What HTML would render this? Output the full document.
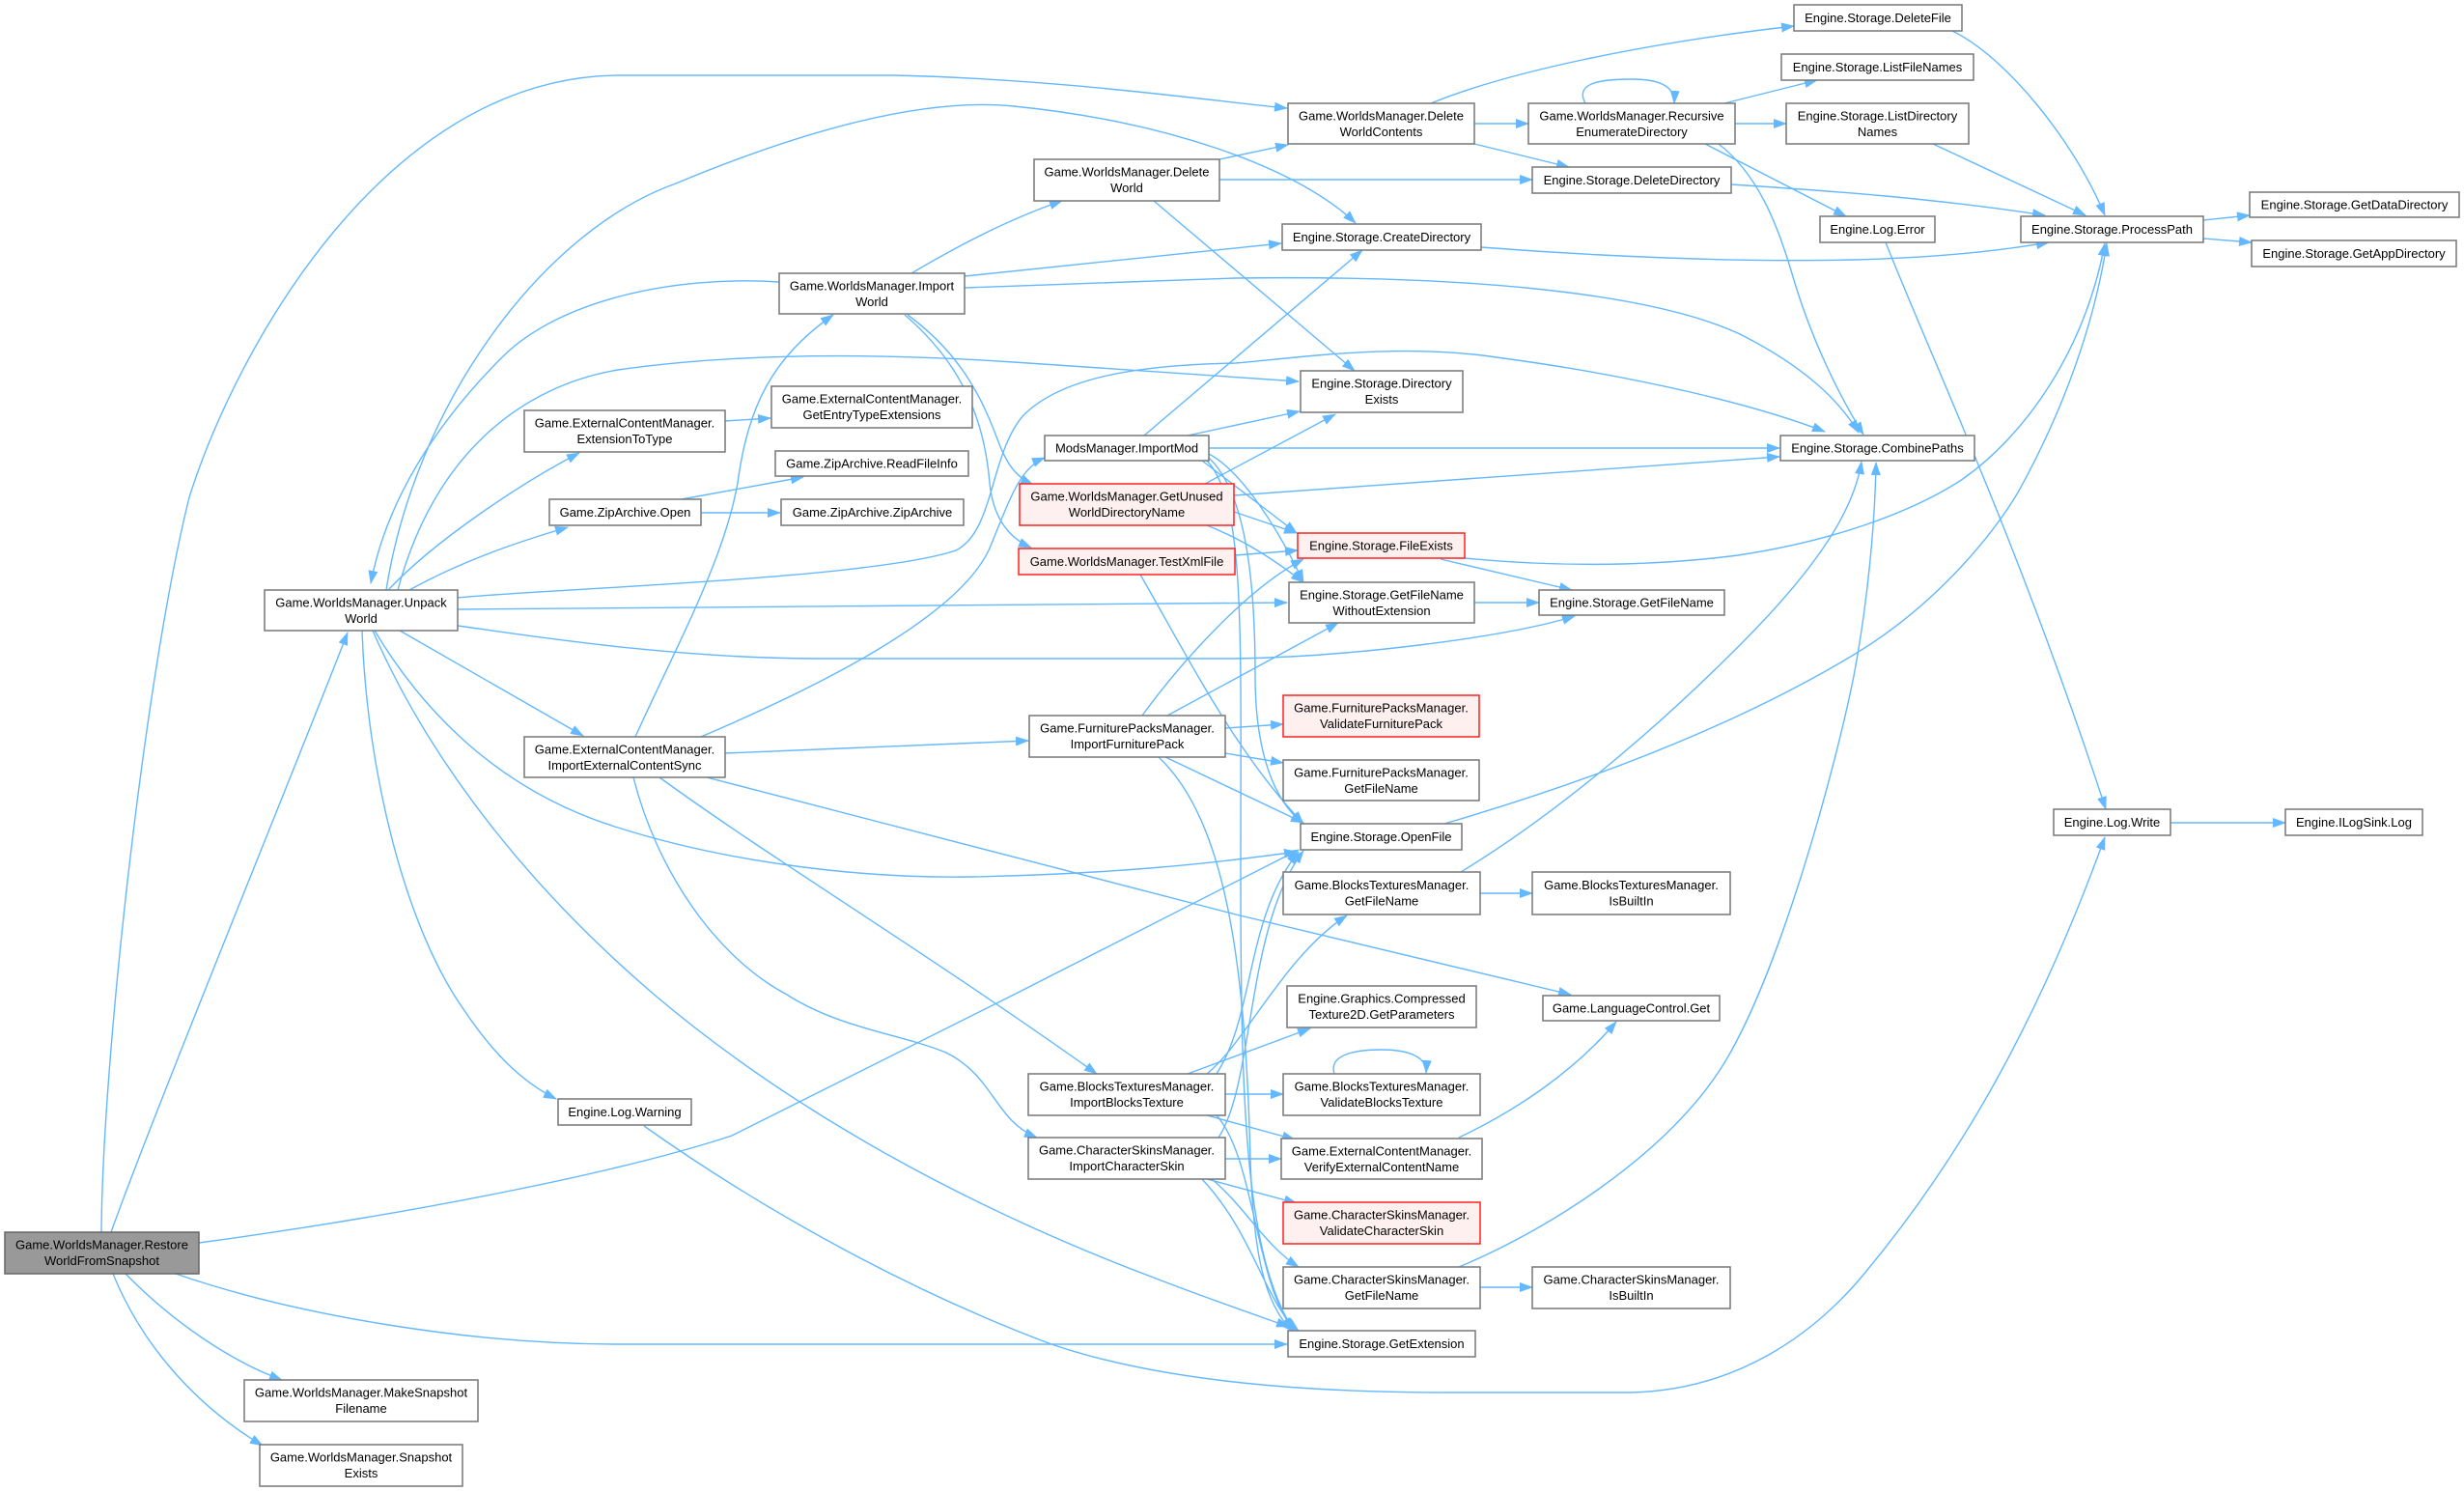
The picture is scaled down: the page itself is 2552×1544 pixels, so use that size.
<!DOCTYPE html>
<html>
<head>
<meta charset="utf-8">
<style>
html,body{margin:0;padding:0;background:#fff;}
svg{display:block;}
.e{fill:none;stroke:#63b8ff;stroke-width:1.4;marker-end:url(#ah);}
.el{fill:none;stroke:#63b8ff;stroke-width:1.4;}
.n{fill:#fff;stroke:#777;stroke-width:1.5;}
.r{fill:#fff0f0;stroke:#ff2020;stroke-width:1.5;}
.g{fill:#999;stroke:#666;stroke-width:1.5;}
text{font-family:"Liberation Sans",Arial,sans-serif;font-size:13px;fill:#000;text-anchor:middle;}
</style>
</head>
<body>
<svg width="2552" height="1544" viewBox="0 0 2552 1544" xmlns="http://www.w3.org/2000/svg">
<defs>
<marker id="ah" viewBox="0 0 14 10" markerWidth="14" markerHeight="10" refX="13" refY="5" orient="auto" markerUnits="userSpaceOnUse">
<path d="M0,0 L14,5 L0,10 z" fill="#63b8ff"/>
</marker>
</defs>
<rect width="2552" height="1544" fill="#fff"/>

<!-- edges from Restore -->
<path class="e" d="M105,1276 C106,1100 150,700 196,515 C245,360 400,80 640,78 L926,78 C1100,82 1250,104 1333,112"/>
<path class="e" d="M115,1276 C160,1150 320,760 360,655"/>
<path class="e" d="M206,1287 C420,1258 640,1215 758,1176 L1052,1029 L1345,880"/>
<path class="e" d="M182,1319 C300,1360 480,1392 640,1392 L1333,1392"/>
<path class="e" d="M130,1319 C180,1370 240,1410 292,1429"/>
<path class="e" d="M117,1319 C150,1400 210,1460 272,1497"/>

<!-- UnpackWorld -->
<path class="e" d="M400,611 C430,420 560,240 700,190 C820,140 950,100 1050,110 C1200,125 1340,170 1404,231"/>
<path class="e" d="M807,292 C700,285 580,310 520,370 C450,440 400,520 384,604"/>
<path class="e" d="M412,611 C450,470 540,400 640,383 C760,366 900,365 1050,375 C1200,385 1300,392 1345,395"/>
<path class="e" d="M474,619 C560,610 900,600 990,570 C1030,550 1025,470 1060,430 C1100,390 1180,378 1280,376 C1350,370 1450,355 1550,370 C1700,390 1820,420 1890,447"/>
<path class="e" d="M474,631 L1333,624"/>
<path class="e" d="M474,648 C560,660 700,682 850,682 L1280,682 C1400,680 1560,660 1631,638"/>
<path class="e" d="M414,653 L604,762"/>
<path class="e" d="M388,653 C440,740 520,820 640,857 C760,895 900,910 1007,908 C1150,905 1250,895 1343,882"/>
<path class="e" d="M386,653 C450,800 560,930 680,1032 C820,1150 1000,1250 1200,1325 C1260,1348 1310,1365 1335,1374"/>
<path class="e" d="M375,653 C380,800 420,960 480,1045 C510,1090 540,1120 576,1138"/>
<path class="e" d="M424,611 C480,580 540,560 588,546"/>
<path class="e" d="M402,611 C450,560 540,500 600,469"/>

<!-- Log.Warning -> Log.Write -->
<path class="e" d="M667,1166 C800,1260 950,1340 1089,1392 C1200,1430 1350,1442 1500,1442 L1688,1442 C1800,1440 1880,1380 1930,1320 C2030,1200 2110,1060 2180,867"/>

<!-- ExtensionToType / ZipArchive -->
<path class="e" d="M751,436 L798,433"/>
<path class="e" d="M706,517 L832,494"/>
<path class="e" d="M726,531 L808,531"/>

<!-- ImportExternalContentSync -->
<path class="e" d="M658,763 C700,670 750,580 764,500 C775,420 800,370 863,326"/>
<path class="e" d="M726,763 C850,710 990,640 1024,570 C1045,520 1055,485 1082,474"/>
<path class="e" d="M751,780 L1065,767"/>
<path class="e" d="M656,805 C680,900 740,990 815,1030 C870,1065 930,1070 980,1090 C1030,1115 1030,1160 1074,1178"/>
<path class="e" d="M683,805 C800,890 950,980 1136,1112"/>
<path class="e" d="M732,805 L1280,947 L1627,1030"/>

<!-- ImportWorld -->
<path class="e" d="M944,283 C1000,250 1050,225 1100,208"/>
<path class="e" d="M999,286 L1327,252"/>
<path class="e" d="M999,298 L1280,288 C1500,285 1700,300 1800,345 C1870,380 1905,415 1925,448"/>
<path class="e" d="M940,326 C1000,370 1020,420 1035,460 C1045,485 1055,495 1070,502"/>
<path class="e" d="M937,326 C1000,380 1020,440 1025,500 C1028,530 1040,555 1068,567"/>

<!-- DeleteWorld -->
<path class="e" d="M1263,165 L1334,150"/>
<path class="e" d="M1263,186 L1587,186"/>
<path class="e" d="M1195,208 L1403,384"/>

<!-- DeleteWorldContents -->
<path class="e" d="M1482,107 C1560,75 1700,45 1858,27"/>
<path class="e" d="M1527,128 L1583,128"/>
<path class="e" d="M1527,149 L1625,173"/>

<!-- RecursiveEnumerateDirectory -->
<path class="e" d="M1642,107 C1630,85 1660,82 1690,82 C1720,82 1735,90 1734,107"/>
<path class="e" d="M1786,107 L1882,83"/>
<path class="e" d="M1797,128 L1850,128"/>
<path class="e" d="M1766,149 L1912,224"/>
<path class="e" d="M1780,149 C1820,180 1840,230 1855,280 C1875,350 1905,410 1930,450"/>

<!-- to ProcessPath -->
<path class="e" d="M1793,191 C1900,198 2000,205 2118,223"/>
<path class="e" d="M1534,256 C1650,265 1800,272 1920,269 C2000,267 2070,260 2122,251"/>
<path class="e" d="M2022,32 C2080,60 2150,150 2180,223"/>
<path class="e" d="M2002,149 L2160,223"/>
<path class="e" d="M1517,578 C1600,586 1700,588 1800,575 C1900,560 1980,530 2030,498 C2100,450 2160,360 2180,252"/>
<path class="e" d="M1496,853 C1650,808 1800,750 1920,678 C2000,630 2060,560 2090,510 C2140,420 2170,330 2182,252"/>
<path class="e" d="M2282,228 L2330,223"/>
<path class="e" d="M2282,247 L2332,251"/>

<!-- Log -->
<path class="e" d="M1953,251 C2000,370 2090,560 2181,838"/>
<path class="e" d="M2248,852 L2367,852"/>

<!-- Storage misc -->
<path class="e" d="M1527,624 L1594,624"/>
<path class="e" d="M1492,579 L1628,611"/>
<path class="e" d="M1533,925 L1587,925"/>
<path class="e" d="M1533,1333 L1587,1333"/>
<path class="e" d="M1513,903 C1600,850 1700,770 1800,670 C1880,590 1920,530 1928,478"/>
<path class="e" d="M1511,1312 C1600,1275 1720,1200 1780,1110 C1840,1020 1900,800 1920,700 C1935,620 1942,540 1943,479"/>
<path class="e" d="M1511,1178 C1570,1150 1630,1110 1674,1058"/>
<path class="e" d="M1382,1112 C1375,1090 1410,1087 1431,1087 C1460,1087 1478,1095 1477,1111"/>

<!-- ModsManager.ImportMod -->
<path class="e" d="M1185,451 L1411,259"/>
<path class="e" d="M1230,451 L1346,426"/>
<path class="e" d="M1252,464 L1843,464"/>
<path class="e" d="M1245,477 L1343,552"/>
<path class="e" d="M1252,470 C1290,490 1330,560 1350,603"/>
<path class="e" d="M1252,474 C1290,510 1300,600 1300,700 C1300,780 1320,830 1350,853"/>
<path class="e" d="M1250,477 C1290,520 1285,650 1285,900 C1285,1150 1290,1300 1340,1378"/>

<!-- GetUnused / TestXml -->
<path class="e" d="M1248,501 L1383,429"/>
<path class="e" d="M1278,513 L1843,473"/>
<path class="e" d="M1278,530 L1343,552"/>
<path class="e" d="M1250,544 C1290,560 1320,580 1350,603"/>
<path class="e" d="M1279,575 L1344,570"/>
<path class="e" d="M1181,595 C1230,680 1280,780 1350,853"/>

<!-- ImportFurniturePack -->
<path class="e" d="M1183,741 C1220,690 1290,610 1350,579"/>
<path class="e" d="M1209,741 L1386,645"/>
<path class="e" d="M1269,754 L1329,750"/>
<path class="e" d="M1269,780 L1329,790"/>
<path class="e" d="M1207,784 L1350,852"/>
<path class="e" d="M1200,784 C1270,850 1290,1000 1295,1200 C1298,1300 1310,1350 1338,1378"/>

<!-- ImportBlocksTexture -->
<path class="e" d="M1230,1112 L1357,1065"/>
<path class="e" d="M1250,1112 C1290,1080 1330,990 1395,948"/>
<path class="e" d="M1260,1112 C1300,1050 1290,950 1345,882"/>
<path class="e" d="M1269,1133 L1329,1133"/>
<path class="e" d="M1250,1155 L1341,1180"/>
<path class="e" d="M1260,1155 C1300,1200 1300,1330 1340,1377"/>

<!-- ImportCharacterSkin -->
<path class="e" d="M1262,1178 C1300,1120 1290,960 1350,881"/>
<path class="e" d="M1269,1200 L1327,1200"/>
<path class="e" d="M1250,1221 L1343,1246"/>
<path class="e" d="M1255,1221 C1290,1250 1310,1290 1345,1312"/>
<path class="e" d="M1245,1221 C1300,1280 1310,1350 1345,1378"/>

<!-- NODES -->
<rect class="g" x="5" y="1276" width="201" height="43"/>
<text x="105.5" y="1293.5">Game.WorldsManager.Restore</text><text x="105.5" y="1310">WorldFromSnapshot</text>

<rect class="n" x="253" y="1429" width="242" height="43"/>
<text x="374" y="1446.5">Game.WorldsManager.MakeSnapshot</text><text x="374" y="1463">Filename</text>

<rect class="n" x="269" y="1496" width="210" height="43"/>
<text x="374" y="1513.5">Game.WorldsManager.Snapshot</text><text x="374" y="1530">Exists</text>

<rect class="n" x="274" y="611" width="200" height="42"/>
<text x="374" y="628.5">Game.WorldsManager.Unpack</text><text x="374" y="645">World</text>

<rect class="n" x="543" y="425" width="208" height="43"/>
<text x="647" y="442.5">Game.ExternalContentManager.</text><text x="647" y="459">ExtensionToType</text>

<rect class="n" x="569" y="517" width="157" height="27"/>
<text x="647.5" y="535">Game.ZipArchive.Open</text>

<rect class="n" x="543" y="763" width="208" height="42"/>
<text x="647" y="780.5">Game.ExternalContentManager.</text><text x="647" y="797">ImportExternalContentSync</text>

<rect class="n" x="578" y="1138" width="138" height="27"/>
<text x="647" y="1156">Engine.Log.Warning</text>

<rect class="n" x="807" y="283" width="192" height="42"/>
<text x="903" y="300.5">Game.WorldsManager.Import</text><text x="903" y="317">World</text>

<rect class="n" x="799" y="400" width="208" height="43"/>
<text x="903" y="417.5">Game.ExternalContentManager.</text><text x="903" y="434">GetEntryTypeExtensions</text>

<rect class="n" x="803" y="467" width="200" height="26"/>
<text x="903" y="484.5">Game.ZipArchive.ReadFileInfo</text>

<rect class="n" x="809" y="517" width="189" height="27"/>
<text x="903.5" y="535">Game.ZipArchive.ZipArchive</text>

<rect class="n" x="1071" y="165" width="192" height="43"/>
<text x="1167" y="182.5">Game.WorldsManager.Delete</text><text x="1167" y="199">World</text>

<rect class="n" x="1082" y="451" width="170" height="26"/>
<text x="1167" y="468.5">ModsManager.ImportMod</text>

<rect class="r" x="1056" y="501" width="222" height="43"/>
<text x="1167" y="518.5">Game.WorldsManager.GetUnused</text><text x="1167" y="535">WorldDirectoryName</text>

<rect class="r" x="1055" y="568" width="224" height="27"/>
<text x="1167" y="586">Game.WorldsManager.TestXmlFile</text>

<rect class="n" x="1066" y="741" width="203" height="43"/>
<text x="1167.5" y="758.5">Game.FurniturePacksManager.</text><text x="1167.5" y="775">ImportFurniturePack</text>

<rect class="n" x="1065" y="1112" width="204" height="43"/>
<text x="1167" y="1129.5">Game.BlocksTexturesManager.</text><text x="1167" y="1146">ImportBlocksTexture</text>

<rect class="n" x="1065" y="1178" width="204" height="43"/>
<text x="1167" y="1195.5">Game.CharacterSkinsManager.</text><text x="1167" y="1212">ImportCharacterSkin</text>

<rect class="n" x="1334" y="107" width="193" height="42"/>
<text x="1430.5" y="124.5">Game.WorldsManager.Delete</text><text x="1430.5" y="141">WorldContents</text>

<rect class="n" x="1328" y="232" width="206" height="27"/>
<text x="1431" y="250">Engine.Storage.CreateDirectory</text>

<rect class="n" x="1347" y="384" width="168" height="43"/>
<text x="1431" y="401.5">Engine.Storage.Directory</text><text x="1431" y="418">Exists</text>

<rect class="r" x="1344" y="552" width="173" height="26"/>
<text x="1430.5" y="569.5">Engine.Storage.FileExists</text>

<rect class="n" x="1335" y="603" width="192" height="42"/>
<text x="1431" y="620.5">Engine.Storage.GetFileName</text><text x="1431" y="637">WithoutExtension</text>

<rect class="r" x="1329" y="720" width="203" height="43"/>
<text x="1430.5" y="737.5">Game.FurniturePacksManager.</text><text x="1430.5" y="754">ValidateFurniturePack</text>

<rect class="n" x="1329" y="787" width="203" height="42"/>
<text x="1430.5" y="804.5">Game.FurniturePacksManager.</text><text x="1430.5" y="821">GetFileName</text>

<rect class="n" x="1347" y="853" width="167" height="27"/>
<text x="1430.5" y="871">Engine.Storage.OpenFile</text>

<rect class="n" x="1329" y="903" width="204" height="44"/>
<text x="1431" y="921">Game.BlocksTexturesManager.</text><text x="1431" y="937.5">GetFileName</text>

<rect class="n" x="1333" y="1021" width="196" height="43"/>
<text x="1431" y="1038.5">Engine.Graphics.Compressed</text><text x="1431" y="1055">Texture2D.GetParameters</text>

<rect class="n" x="1329" y="1112" width="204" height="43"/>
<text x="1431" y="1129.5">Game.BlocksTexturesManager.</text><text x="1431" y="1146">ValidateBlocksTexture</text>

<rect class="n" x="1327" y="1179" width="208" height="42"/>
<text x="1431" y="1196.5">Game.ExternalContentManager.</text><text x="1431" y="1213">VerifyExternalContentName</text>

<rect class="r" x="1329" y="1245" width="204" height="43"/>
<text x="1431" y="1262.5">Game.CharacterSkinsManager.</text><text x="1431" y="1279">ValidateCharacterSkin</text>

<rect class="n" x="1329" y="1312" width="204" height="43"/>
<text x="1431" y="1329.5">Game.CharacterSkinsManager.</text><text x="1431" y="1346">GetFileName</text>

<rect class="n" x="1334" y="1378" width="194" height="27"/>
<text x="1431" y="1396">Engine.Storage.GetExtension</text>

<rect class="n" x="1583" y="107" width="214" height="42"/>
<text x="1690" y="124.5">Game.WorldsManager.Recursive</text><text x="1690" y="141">EnumerateDirectory</text>

<rect class="n" x="1587" y="173" width="206" height="27"/>
<text x="1690" y="191">Engine.Storage.DeleteDirectory</text>

<rect class="n" x="1594" y="611" width="192" height="26"/>
<text x="1690" y="628.5">Engine.Storage.GetFileName</text>

<rect class="n" x="1587" y="903" width="205" height="44"/>
<text x="1689.5" y="921">Game.BlocksTexturesManager.</text><text x="1689.5" y="937.5">IsBuiltIn</text>

<rect class="n" x="1598" y="1031" width="183" height="26"/>
<text x="1689.5" y="1048.5">Game.LanguageControl.Get</text>

<rect class="n" x="1587" y="1312" width="205" height="43"/>
<text x="1689.5" y="1329.5">Game.CharacterSkinsManager.</text><text x="1689.5" y="1346">IsBuiltIn</text>

<rect class="n" x="1858" y="5" width="174" height="27"/>
<text x="1945" y="23">Engine.Storage.DeleteFile</text>

<rect class="n" x="1845" y="56" width="199" height="27"/>
<text x="1944.5" y="74">Engine.Storage.ListFileNames</text>

<rect class="n" x="1850" y="107" width="189" height="42"/>
<text x="1944.5" y="124.5">Engine.Storage.ListDirectory</text><text x="1944.5" y="141">Names</text>

<rect class="n" x="1885" y="224" width="119" height="27"/>
<text x="1944.5" y="242">Engine.Log.Error</text>

<rect class="n" x="1844" y="451" width="201" height="26"/>
<text x="1944.5" y="468.5">Engine.Storage.CombinePaths</text>

<rect class="n" x="2093" y="224" width="189" height="27"/>
<text x="2187.5" y="242">Engine.Storage.ProcessPath</text>

<rect class="n" x="2127" y="838" width="121" height="27"/>
<text x="2187.5" y="856">Engine.Log.Write</text>

<rect class="n" x="2330" y="199" width="217" height="26"/>
<text x="2438.5" y="216.5">Engine.Storage.GetDataDirectory</text>

<rect class="n" x="2332" y="249" width="212" height="27"/>
<text x="2438" y="267">Engine.Storage.GetAppDirectory</text>

<rect class="n" x="2367" y="838" width="142" height="27"/>
<text x="2438" y="856">Engine.ILogSink.Log</text>
</svg>
</body>
</html>
